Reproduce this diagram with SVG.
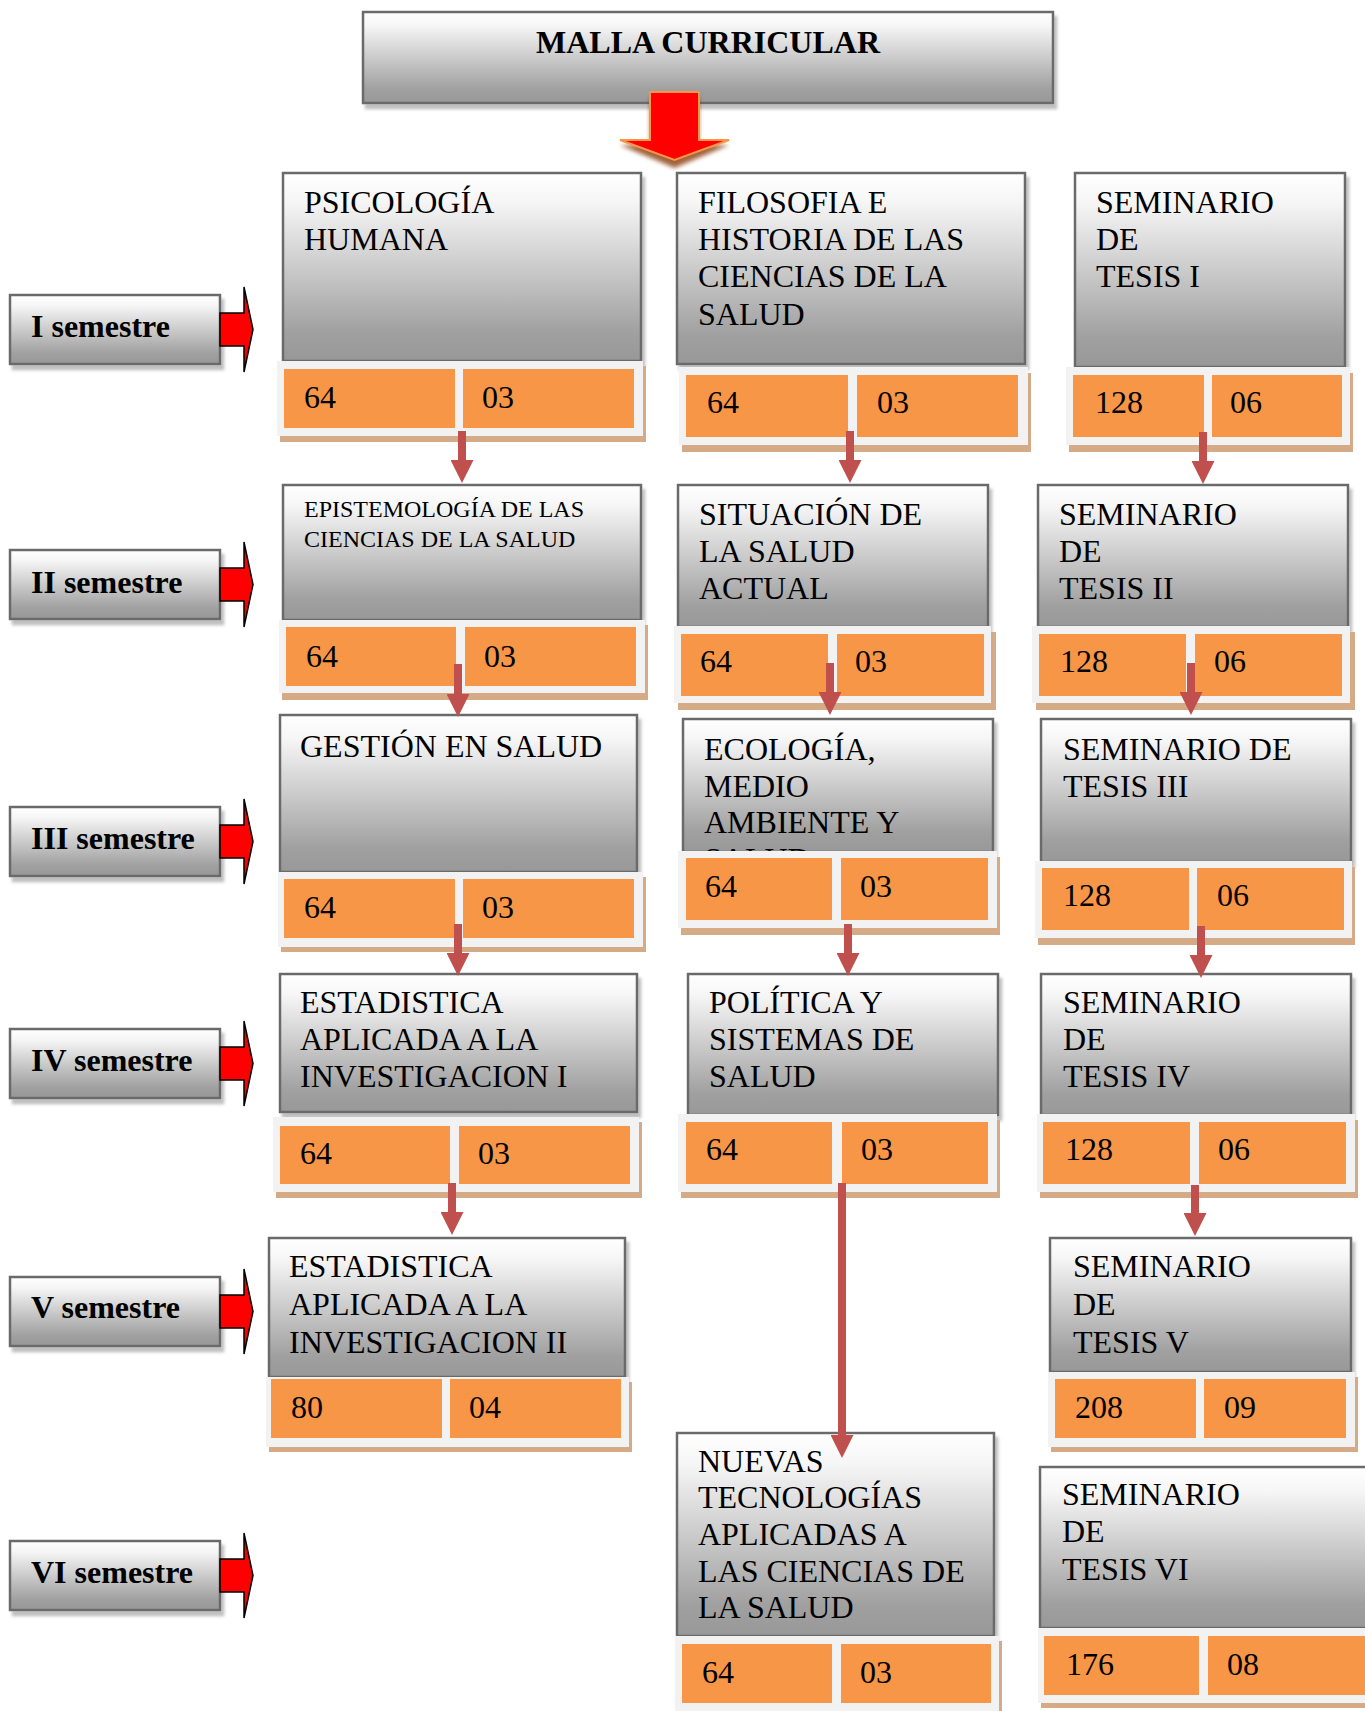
<svg xmlns="http://www.w3.org/2000/svg" width="1365" height="1711" viewBox="0 0 1365 1711">
<defs>
<linearGradient id="gr" x1="0" y1="0" x2="0" y2="1">
<stop offset="0" stop-color="#ffffff"/>
<stop offset="0.15" stop-color="#f6f6f6"/>
<stop offset="0.85" stop-color="#a0a0a0"/>
<stop offset="1" stop-color="#989898"/>
</linearGradient>
<filter id="sh" x="-5%" y="-5%" width="115%" height="120%">
<feDropShadow dx="3" dy="5" stdDeviation="1.5" flood-color="#000" flood-opacity="0.25"/>
</filter>
<filter id="bl" x="-20%" y="-20%" width="140%" height="140%">
<feGaussianBlur stdDeviation="2"/>
</filter>
<marker id="ah" viewBox="0 0 23 23" refX="0" refY="11.5" markerWidth="23" markerHeight="23" markerUnits="userSpaceOnUse" orient="auto">
<path d="M0,0 L23,11.5 L0,23 Z" fill="#C0504D"/>
</marker>
<style>
.box{fill:url(#gr);stroke:#6b6b6b;stroke-width:2.5;filter:url(#sh)}
.t{font-family:"Liberation Serif","Times New Roman",serif;font-size:32px;fill:#000}
.ts{font-family:"Liberation Serif","Times New Roman",serif;font-size:24px;fill:#000}
.b{font-family:"Liberation Serif","Times New Roman",serif;font-size:32px;font-weight:bold;fill:#000}
.band{fill:#f2f2f2}
.bsh{fill:#d5aa86}
.cell{fill:#F79646}
.sarr{fill:#ff0000;stroke:#000;stroke-width:1.5}
.con{stroke:#C0504D;stroke-width:8;fill:none;marker-end:url(#ah)}
</style>
</defs>
<rect width="1365" height="1711" fill="#ffffff"/>

<g id="title">
<rect x="363" y="12" width="690" height="91" class="box"/>
<text x="708" y="53" class="b" text-anchor="middle">MALLA CURRICULAR</text>
<path d="M650,97 L699,97 L699,145 L729,145 L674.5,168 L620,145 L650,145 Z" fill="#8a3c10" opacity="0.8" filter="url(#bl)"/>
<path d="M650,92 L699,92 L699,140 L729,140 L674.5,160 L620,140 L650,140 Z" fill="#ff0000" stroke="#F79646" stroke-width="2"/>
</g>

<g id="sem1">
<rect x="10" y="295" width="210" height="69" class="box"/>
<text x="31" y="337" class="b">I semestre</text>
<path d="M220,313 L244,313 L244,287 L253,329.5 L244,372 L244,346 L220,346 Z" class="sarr"/>
</g>
<g id="sem2">
<rect x="10" y="550" width="210" height="69" class="box"/>
<text x="31" y="593" class="b">II semestre</text>
<path d="M220,568 L244,568 L244,542 L253,584.5 L244,627 L244,601 L220,601 Z" class="sarr"/>
</g>
<g id="sem3">
<rect x="10" y="807" width="210" height="69" class="box"/>
<text x="31" y="849" class="b">III semestre</text>
<path d="M220,825 L244,825 L244,799 L253,841.5 L244,884 L244,858 L220,858 Z" class="sarr"/>
</g>
<g id="sem4">
<rect x="10" y="1029" width="210" height="69" class="box"/>
<text x="31" y="1071" class="b">IV semestre</text>
<path d="M220,1047 L244,1047 L244,1021 L253,1063.5 L244,1106 L244,1080 L220,1080 Z" class="sarr"/>
</g>
<g id="sem5">
<rect x="10" y="1277" width="210" height="69" class="box"/>
<text x="31" y="1318" class="b">V semestre</text>
<path d="M220,1295 L244,1295 L244,1269 L253,1311.5 L244,1354 L244,1328 L220,1328 Z" class="sarr"/>
</g>
<g id="sem6">
<rect x="10" y="1541" width="210" height="69" class="box"/>
<text x="31" y="1583" class="b">VI semestre</text>
<path d="M220,1559 L244,1559 L244,1533 L253,1575.5 L244,1618 L244,1592 L220,1592 Z" class="sarr"/>
</g>

<!-- Column 1 -->
<g id="psicologia">
<rect x="283" y="173" width="358" height="188" class="box"/>
<text x="304" y="213" class="t">PSICOLOGÍA</text>
<text x="304" y="250" class="t">HUMANA</text>
<rect x="280" y="366" width="366" height="76" class="bsh"/>
<rect x="277" y="361" width="366" height="75" class="band"/>
<rect x="284" y="369" width="171" height="59" class="cell"/>
<rect x="463" y="369" width="171" height="59" class="cell"/>
<text x="304" y="408" class="t">64</text>
<text x="482" y="408" class="t">03</text>
</g>
<g id="epistemologia">
<rect x="283" y="485" width="358" height="135" class="box"/>
<text x="304" y="517" class="ts">EPISTEMOLOGÍA DE LAS</text>
<text x="304" y="547" class="ts">CIENCIAS DE LA SALUD</text>
<rect x="282" y="625" width="366" height="75" class="bsh"/>
<rect x="279" y="620" width="366" height="73" class="band"/>
<rect x="286" y="627" width="170" height="59" class="cell"/>
<rect x="465" y="627" width="171" height="59" class="cell"/>
<text x="306" y="667" class="t">64</text>
<text x="484" y="667" class="t">03</text>
</g>
<g id="gestion">
<rect x="280" y="715" width="357" height="157" class="box"/>
<text x="300" y="757" class="t">GESTIÓN EN SALUD</text>
<rect x="281" y="877" width="365" height="75" class="bsh"/>
<rect x="278" y="872" width="365" height="75" class="band"/>
<rect x="284" y="879" width="171" height="59" class="cell"/>
<rect x="463" y="879" width="171" height="59" class="cell"/>
<text x="304" y="918" class="t">64</text>
<text x="482" y="918" class="t">03</text>
</g>
<g id="estadistica1">
<rect x="280" y="974" width="357" height="138" class="box"/>
<text x="300" y="1013" class="t">ESTADISTICA</text>
<text x="300" y="1050" class="t">APLICADA A LA</text>
<text x="300" y="1087" class="t">INVESTIGACION I</text>
<rect x="276" y="1122" width="366" height="76" class="bsh"/>
<rect x="273" y="1117" width="366" height="75" class="band"/>
<rect x="280" y="1126" width="170" height="58" class="cell"/>
<rect x="459" y="1126" width="171" height="58" class="cell"/>
<text x="300" y="1164" class="t">64</text>
<text x="478" y="1164" class="t">03</text>
</g>
<g id="estadistica2">
<rect x="269" y="1238" width="356" height="139" class="box"/>
<text x="289" y="1277" class="t">ESTADISTICA</text>
<text x="289" y="1315" class="t">APLICADA A LA</text>
<text x="289" y="1353" class="t">INVESTIGACION II</text>
<rect x="269" y="1382" width="363" height="70" class="bsh"/>
<rect x="266" y="1377" width="363" height="70" class="band"/>
<rect x="271" y="1379" width="171" height="59" class="cell"/>
<rect x="450" y="1379" width="171" height="59" class="cell"/>
<text x="291" y="1418" class="t">80</text>
<text x="469" y="1418" class="t">04</text>
</g>

<!-- Column 2 -->
<g id="filosofia">
<rect x="677" y="173" width="348" height="191" class="box"/>
<text x="698" y="213" class="t">FILOSOFIA E</text>
<text x="698" y="250" class="t">HISTORIA DE LAS</text>
<text x="698" y="287" class="t">CIENCIAS DE LA</text>
<text x="698" y="325" class="t">SALUD</text>
<rect x="682" y="373" width="349" height="79" class="bsh"/>
<rect x="679" y="367" width="349" height="78" class="band"/>
<rect x="686" y="375" width="162" height="62" class="cell"/>
<rect x="857" y="375" width="161" height="62" class="cell"/>
<text x="707" y="413" class="t">64</text>
<text x="877" y="413" class="t">03</text>
</g>
<g id="situacion">
<rect x="678" y="485" width="310" height="142" class="box"/>
<text x="699" y="525" class="t">SITUACIÓN DE</text>
<text x="699" y="562" class="t">LA SALUD</text>
<text x="699" y="599" class="t">ACTUAL</text>
<rect x="678" y="632" width="318" height="78" class="bsh"/>
<rect x="674" y="626" width="317" height="77" class="band"/>
<rect x="681" y="634" width="147" height="62" class="cell"/>
<rect x="837" y="634" width="147" height="62" class="cell"/>
<text x="700" y="672" class="t">64</text>
<text x="855" y="672" class="t">03</text>
</g>
<g id="ecologia">
<rect x="683" y="719" width="310" height="133" class="box"/>
<text x="704" y="760" class="t">ECOLOGÍA,</text>
<text x="704" y="797" class="t">MEDIO</text>
<text x="704" y="833" class="t">AMBIENTE Y</text>
<text x="704" y="870" class="t">SALUD</text>
<rect x="681" y="857" width="319" height="78" class="bsh"/>
<rect x="678" y="851" width="319" height="77" class="band"/>
<rect x="686" y="858" width="146" height="62" class="cell"/>
<rect x="841" y="858" width="147" height="62" class="cell"/>
<text x="705" y="897" class="t">64</text>
<text x="860" y="897" class="t">03</text>
</g>
<g id="politica">
<rect x="688" y="974" width="310" height="141" class="box"/>
<text x="709" y="1013" class="t">POLÍTICA Y</text>
<text x="709" y="1050" class="t">SISTEMAS DE</text>
<text x="709" y="1087" class="t">SALUD</text>
<rect x="681" y="1120" width="319" height="78" class="bsh"/>
<rect x="678" y="1114" width="319" height="78" class="band"/>
<rect x="686" y="1122" width="146" height="62" class="cell"/>
<rect x="842" y="1122" width="146" height="62" class="cell"/>
<text x="706" y="1160" class="t">64</text>
<text x="861" y="1160" class="t">03</text>
</g>
<g id="nuevas">
<rect x="677" y="1433" width="317" height="203" class="box"/>
<text x="698" y="1472" class="t">NUEVAS</text>
<text x="698" y="1508" class="t">TECNOLOGÍAS</text>
<text x="698" y="1545" class="t">APLICADAS A</text>
<text x="698" y="1582" class="t">LAS CIENCIAS DE</text>
<text x="698" y="1618" class="t">LA SALUD</text>
<rect x="678" y="1641" width="324" height="75" class="bsh"/>
<rect x="675" y="1636" width="324" height="75" class="band"/>
<rect x="682" y="1644" width="150" height="59" class="cell"/>
<rect x="841" y="1644" width="150" height="59" class="cell"/>
<text x="702" y="1683" class="t">64</text>
<text x="860" y="1683" class="t">03</text>
</g>

<!-- Column 3 -->
<g id="seminario1">
<rect x="1075" y="173" width="270" height="194" class="box"/>
<text x="1096" y="213" class="t">SEMINARIO</text>
<text x="1096" y="250" class="t">DE</text>
<text x="1096" y="287" class="t">TESIS I</text>
<rect x="1069" y="373" width="284" height="79" class="bsh"/>
<rect x="1066" y="367" width="284" height="78" class="band"/>
<rect x="1073" y="375" width="131" height="62" class="cell"/>
<rect x="1212" y="375" width="130" height="62" class="cell"/>
<text x="1095" y="413" class="t">128</text>
<text x="1230" y="413" class="t">06</text>
</g>
<g id="seminario2">
<rect x="1038" y="485" width="310" height="142" class="box"/>
<text x="1059" y="525" class="t">SEMINARIO</text>
<text x="1059" y="562" class="t">DE</text>
<text x="1059" y="599" class="t">TESIS II</text>
<rect x="1036" y="632" width="319" height="78" class="bsh"/>
<rect x="1032" y="626" width="318" height="77" class="band"/>
<rect x="1039" y="634" width="147" height="62" class="cell"/>
<rect x="1195" y="634" width="147" height="62" class="cell"/>
<text x="1060" y="672" class="t">128</text>
<text x="1214" y="672" class="t">06</text>
</g>
<g id="seminario3">
<rect x="1041" y="719" width="310" height="143" class="box"/>
<text x="1063" y="760" class="t">SEMINARIO DE</text>
<text x="1063" y="797" class="t">TESIS III</text>
<rect x="1038" y="867" width="317" height="78" class="bsh"/>
<rect x="1035" y="861" width="317" height="77" class="band"/>
<rect x="1042" y="868" width="147" height="62" class="cell"/>
<rect x="1197" y="868" width="147" height="62" class="cell"/>
<text x="1063" y="906" class="t">128</text>
<text x="1217" y="906" class="t">06</text>
</g>
<g id="seminario4">
<rect x="1041" y="974" width="310" height="141" class="box"/>
<text x="1063" y="1013" class="t">SEMINARIO</text>
<text x="1063" y="1050" class="t">DE</text>
<text x="1063" y="1087" class="t">TESIS IV</text>
<rect x="1040" y="1120" width="318" height="78" class="bsh"/>
<rect x="1037" y="1114" width="318" height="78" class="band"/>
<rect x="1043" y="1122" width="147" height="62" class="cell"/>
<rect x="1199" y="1122" width="147" height="62" class="cell"/>
<text x="1065" y="1160" class="t">128</text>
<text x="1218" y="1160" class="t">06</text>
</g>
<g id="seminario5">
<rect x="1050" y="1238" width="301" height="134" class="box"/>
<text x="1073" y="1277" class="t">SEMINARIO</text>
<text x="1073" y="1315" class="t">DE</text>
<text x="1073" y="1353" class="t">TESIS V</text>
<rect x="1051" y="1377" width="307" height="75" class="bsh"/>
<rect x="1048" y="1372" width="307" height="75" class="band"/>
<rect x="1055" y="1379" width="141" height="59" class="cell"/>
<rect x="1204" y="1379" width="142" height="59" class="cell"/>
<text x="1075" y="1418" class="t">208</text>
<text x="1224" y="1418" class="t">09</text>
</g>
<g id="seminario6">
<rect x="1040" y="1467" width="340" height="161" class="box"/>
<text x="1062" y="1505" class="t">SEMINARIO</text>
<text x="1062" y="1542" class="t">DE</text>
<text x="1062" y="1580" class="t">TESIS VI</text>
<rect x="1041" y="1633" width="340" height="75" class="bsh"/>
<rect x="1038" y="1628" width="340" height="75" class="band"/>
<rect x="1044" y="1636" width="155" height="59" class="cell"/>
<rect x="1208" y="1636" width="170" height="59" class="cell"/>
<text x="1066" y="1675" class="t">176</text>
<text x="1227" y="1675" class="t">08</text>
</g>

<g id="connectors">
<line x1="462" y1="431" x2="462" y2="460" class="con"/>
<line x1="458" y1="664" x2="458" y2="694" class="con"/>
<line x1="458" y1="924" x2="458" y2="953" class="con"/>
<line x1="452" y1="1183" x2="452" y2="1212" class="con"/>
<line x1="850" y1="431" x2="850" y2="460" class="con"/>
<line x1="830" y1="663" x2="830" y2="692" class="con"/>
<line x1="848" y1="924" x2="848" y2="953" class="con"/>
<line x1="842" y1="1183" x2="842" y2="1435" class="con"/>
<line x1="1203" y1="432" x2="1203" y2="461" class="con"/>
<line x1="1191" y1="663" x2="1191" y2="692" class="con"/>
<line x1="1201" y1="926" x2="1201" y2="955" class="con"/>
<line x1="1195" y1="1185" x2="1195" y2="1213" class="con"/>
</g>
</svg>
